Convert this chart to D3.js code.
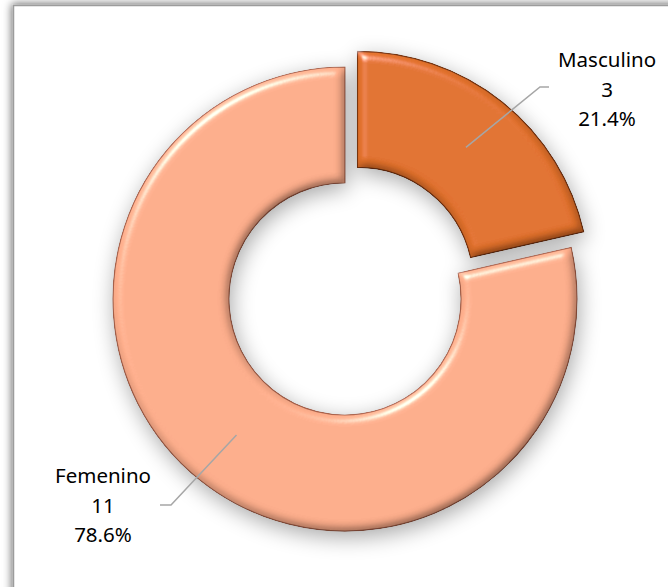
<!DOCTYPE html>
<meta charset="utf-8">
<style>
	body {
		margin: 0;
		background: #fff;
	}
	svg {
		display: block;
	}
	.label text {
		font: 20.5px "Noto Sans", sans-serif;
		fill: #000;
	}
	.leader {
		fill: none;
		stroke: #a6a6a6;
		stroke-width: 1.5px;
	}
</style>
<body>
<script src="https://cdn.jsdelivr.net/npm/d3@7"></script>
<script>

	// chart data
	var categories = ["Masculino", "Femenino"];
	var values = [3, 11];
	var sliceColors = ["#E0702B", "#FBAC8A"];
	var edgeColors = ["#7a3510", "#a8614a"];

	var width = 668,
			height = 587;

	var cx = 345, cy = 299,
			outerR = 232, innerR = 116,
			explode = 20;

	// where the label blocks sit (centre of the middle line) and where the leader line stops
	var labelPos = [[607, 89], [103, 505]];
	var leaderEnd = [[549, 87], [160, 505]];
	var elbow = [[540, 87], [171, 505]];

	var svg = d3.select("body").append("svg")
			.attr("width", width)
			.attr("height", height);

	var defs = svg.append("defs");

	// frame shadow
	var fs = defs.append("filter").attr("id", "frameShadow")
			.attr("x", "-10%").attr("y", "-10%").attr("width", "120%").attr("height", "120%");
	fs.append("feDropShadow").attr("dx", -1).attr("dy", -1).attr("stdDeviation", 4)
			.attr("flood-color", "#000").attr("flood-opacity", 0.6);

	// soft shadow under the donut
	var ds = defs.append("filter").attr("id", "donutShadow")
			.attr("x", "-30%").attr("y", "-30%").attr("width", "160%").attr("height", "160%");
	ds.append("feGaussianBlur").attr("in", "SourceAlpha").attr("stdDeviation", 11).attr("result", "b");
	ds.append("feOffset").attr("in", "b").attr("dx", 2).attr("dy", 6).attr("result", "o");
	ds.append("feComponentTransfer").attr("in", "o").attr("result", "s")
		.append("feFuncA").attr("type", "linear").attr("slope", 0.35);
	var dm = ds.append("feMerge");
	dm.append("feMergeNode").attr("in", "s");

	// bevel look
	var bv = defs.append("filter").attr("id", "bevel")
			.attr("x", "-10%").attr("y", "-10%").attr("width", "120%").attr("height", "120%");
	bv.append("feGaussianBlur").attr("in", "SourceAlpha").attr("stdDeviation", 5).attr("result", "blur");
	bv.append("feSpecularLighting").attr("in", "blur").attr("surfaceScale", 6)
			.attr("specularConstant", 0.8).attr("specularExponent", 40)
			.attr("lighting-color", "#fff").attr("result", "spec")
		.append("feDistantLight").attr("azimuth", 235).attr("elevation", 40);
	bv.append("feComposite").attr("in", "spec").attr("in2", "SourceAlpha")
			.attr("operator", "in").attr("result", "specIn");
	bv.append("feDiffuseLighting").attr("in", "blur").attr("surfaceScale", 6)
			.attr("diffuseConstant", 1).attr("lighting-color", "#fff").attr("result", "diff")
		.append("feDistantLight").attr("azimuth", 235).attr("elevation", 60);
	bv.append("feComposite").attr("in", "SourceGraphic").attr("in2", "diff")
			.attr("operator", "arithmetic").attr("k1", 1).attr("k2", 0.14).attr("k3", 0).attr("k4", 0)
			.attr("result", "shaded");
	bv.append("feComposite").attr("in", "shaded").attr("in2", "specIn")
			.attr("operator", "arithmetic").attr("k1", 0).attr("k2", 1).attr("k3", 0.8).attr("k4", 0)
			.attr("result", "lit");
	bv.append("feComposite").attr("in", "lit").attr("in2", "SourceAlpha").attr("operator", "in");

	// frame
	svg.append("rect")
			.attr("x", 13.5).attr("y", 5.5)
			.attr("width", 720).attr("height", 640)
			.attr("fill", "#fff")
			.attr("stroke", "#9c9c9c")
			.attr("stroke-width", 1.5)
			.attr("filter", "url(#frameShadow)");

	var total = d3.sum(values);
	var pct = d3.format(".1%");

	var pie = d3.pie().sort(null).value(function(d) { return d; });
	var arcs = pie(values);

	var arc = d3.arc().innerRadius(innerR).outerRadius(outerR);

	function offset(d, i) {
		if (i !== 0) return [0, 0];
		var a = (d.startAngle + d.endAngle) / 2;
		return [Math.sin(a) * explode, -Math.cos(a) * explode];
	}

	var g = svg.append("g").attr("transform", "translate(" + cx + "," + cy + ")");

	// shadow layer
	g.append("g").attr("filter", "url(#donutShadow)")
		.selectAll("path")
		.data(arcs)
		.enter().append("path")
		.attr("transform", function(d, i) { var o = offset(d, i); return "translate(" + o + ")"; })
		.attr("d", arc)
		.attr("fill", "#000");

	// slices
	g.selectAll("path.slice")
		.data(arcs)
		.enter().append("path")
		.attr("class", "slice")
		.attr("transform", function(d, i) { var o = offset(d, i); return "translate(" + o + ")"; })
		.attr("d", arc)
		.attr("fill", function(d, i) { return sliceColors[i]; })
		.attr("stroke", function(d, i) { return edgeColors[i]; })
		.attr("stroke-width", 1.2)
		.attr("filter", "url(#bevel)");

	// leader lines
	svg.selectAll("path.leader")
		.data(arcs)
		.enter().append("path")
		.attr("class", "leader")
		.attr("d", function(d, i) {
			var o = offset(d, i);
			var c = arc.centroid(d);
			var p0 = [cx + c[0] + o[0], cy + c[1] + o[1]];
			return "M" + p0 + "L" + elbow[i] + "L" + leaderEnd[i];
		});

	// labels
	var lab = svg.selectAll("g.label")
		.data(arcs)
		.enter().append("g")
		.attr("class", "label")
		.attr("transform", function(d, i) { return "translate(" + labelPos[i] + ")"; });

	lab.each(function(d, i) {
		var lines = [categories[i], String(values[i]), pct(values[i] / total)];
		d3.select(this).selectAll("text")
			.data(lines)
			.enter().append("text")
			.attr("text-anchor", "middle")
			.attr("y", function(t, j) { return (j - 1) * 29.5 + 7.5; })
			.text(function(t) { return t; });
	});

</script>
</body>
</html>
